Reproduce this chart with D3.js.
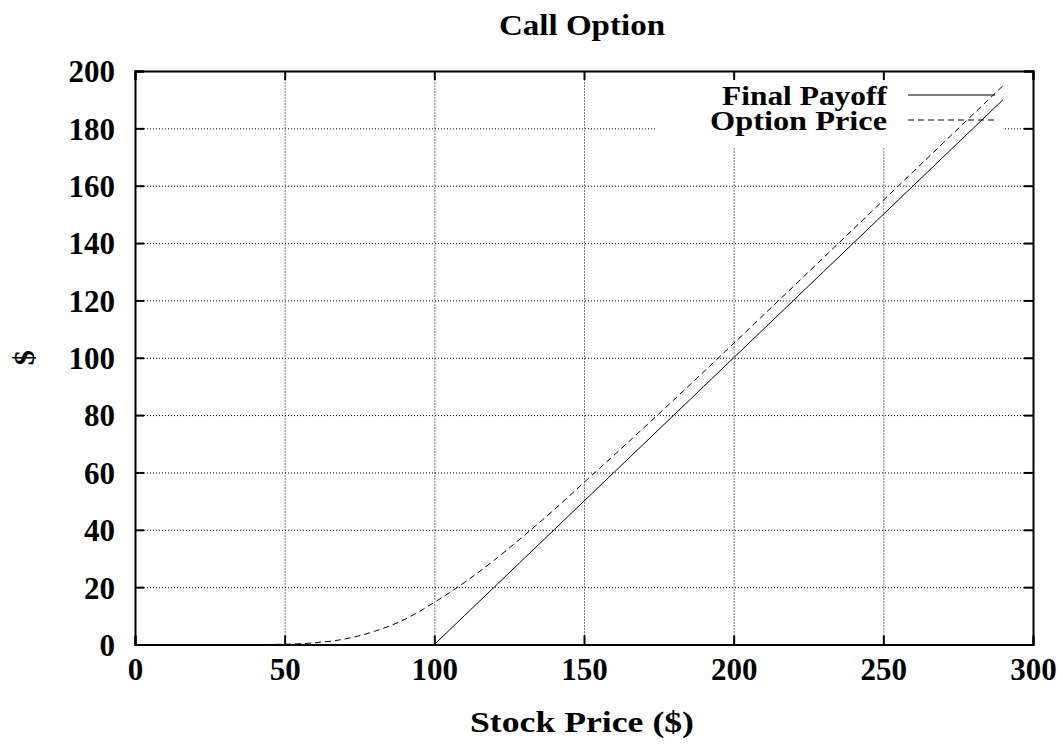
<!DOCTYPE html>
<html>
<head>
<meta charset="utf-8">
<script src="https://cdn.jsdelivr.net/npm/d3@7"></script>
<style>
  body { margin: 0; background: #fff; }
  text { font-family: "Liberation Serif", "Times New Roman", serif; font-weight: bold; fill: #000; }
</style>
</head>
<body>
<script>
// data
var stockPrice = [0, 10, 20, 30, 40, 50, 60, 70, 80, 90, 100, 110, 120, 130, 140,
                  150, 160, 170, 180, 190, 200, 210, 220, 230, 240, 250, 260, 270, 280, 290];
var finalPayoff = [0, 0, 0, 0, 0, 0, 0, 0, 0, 0, 0, 10, 20, 30, 40,
                   50, 60, 70, 80, 90, 100, 110, 120, 130, 140, 150, 160, 170, 180, 190];
var optionPrice = [0, 0, 0, 0, 0, 0.1, 0.6, 1.9, 4.6, 8.7, 14.7, 21.6, 29.4, 38.0, 47.0,
                   56.5, 66.0, 75.6, 85.3, 95.1, 105.0, 114.95, 124.9, 134.9, 144.9, 154.9, 164.9, 174.9, 184.9, 194.9];
var xTicks = [0, 50, 100, 150, 200, 250, 300];
var yTicks = [0, 20, 40, 60, 80, 100, 120, 140, 160, 180, 200];
var seriesNames = ["Final Payoff", "Option Price"];

// set the dimensions and margins of the graph
var margin = { top: 71, right: 30, bottom: 102.5, left: 135 },
    width = 1063 - margin.left - margin.right,
    height = 747 - margin.top - margin.bottom;

var x = d3.scaleLinear().domain([0, 300]).range([0, width]);
var y = d3.scaleLinear().domain([0, 200]).range([height, 0]);

var svg = d3.select("body").append("svg")
    .attr("width", 1063)
    .attr("height", 747)
    .append("g")
    .attr("transform", "translate(" + margin.left + "," + margin.top + ")");

// grid
svg.append("g")
    .attr("class", "grid")
    .attr("transform", "translate(0," + height + ")")
    .call(d3.axisBottom(x).tickValues(xTicks).tickSize(-height).tickFormat(""))
    .call(g => g.select(".domain").remove());
svg.append("g")
    .attr("class", "grid")
    .call(d3.axisLeft(y).tickValues(yTicks).tickSize(-width).tickFormat(""))
    .call(g => g.select(".domain").remove());
svg.selectAll(".grid line")
    .attr("stroke", "#000")
    .attr("stroke-width", 1)
    .attr("stroke-dasharray", "1,2");

// the key covers the grid behind it
svg.append("rect")
    .attr("x", 522)
    .attr("y", 9)
    .attr("width", 348)
    .attr("height", 68)
    .attr("fill", "#fff");

// lines
var line = d3.line()
    .x((d, i) => x(stockPrice[i]))
    .y(d => y(d));

svg.append("path")
    .datum(finalPayoff)
    .attr("fill", "none")
    .attr("stroke", "#000")
    .attr("stroke-width", 1)
    .attr("d", line);

svg.append("path")
    .datum(optionPrice)
    .attr("fill", "none")
    .attr("stroke", "#000")
    .attr("stroke-width", 1)
    .attr("stroke-dasharray", "6,4")
    .attr("d", line.curve(d3.curveMonotoneX));

// key
var key = svg.append("g").selectAll("g")
    .data(seriesNames)
    .enter().append("g")
    .attr("transform", (d, i) => "translate(0," + (24 + i * 25) + ")");
key.append("text")
    .attr("x", 752)
    .attr("dy", "0.35em")
    .attr("text-anchor", "end")
    .attr("textLength", (d, i) => i ? 177 : 165)
    .attr("lengthAdjust", "spacingAndGlyphs")
    .style("font-size", "28px")
    .text(d => d);
key.append("line")
    .attr("x1", 773)
    .attr("x2", 860)
    .attr("stroke", "#000")
    .attr("stroke-width", 1)
    .attr("stroke-dasharray", (d, i) => i ? "6,4" : null);

// axes with ticks inside, mirrored on top and right
var bottomAxis = svg.append("g")
    .attr("transform", "translate(0," + height + ")")
    .call(d3.axisBottom(x).tickValues(xTicks).tickSize(-9).tickPadding(13));
var leftAxis = svg.append("g")
    .call(d3.axisLeft(y).tickValues(yTicks).tickSize(-9).tickPadding(20));
svg.append("g")
    .call(d3.axisTop(x).tickValues(xTicks).tickSize(-9).tickFormat(""));
svg.append("g")
    .attr("transform", "translate(" + width + ",0)")
    .call(d3.axisRight(y).tickValues(yTicks).tickSize(-9).tickFormat(""));

svg.selectAll(".domain").attr("stroke", "#000").attr("stroke-width", 2);
svg.selectAll(".tick line").filter(function () { return !this.parentNode.parentNode.classList.contains("grid"); })
    .attr("stroke", "#000").attr("stroke-width", 2);
bottomAxis.selectAll("text").style("font-size", "31px").attr("dy", "0.71em");
leftAxis.selectAll("text").style("font-size", "31px").attr("dy", "0.35em");
svg.selectAll(".tick text").style("font-family", "'Liberation Serif', serif").style("font-weight", "bold").attr("fill", "#000");

// title and axis labels
svg.append("text")
    .attr("x", width / 2 - 2)
    .attr("y", -36)
    .attr("text-anchor", "middle")
    .attr("textLength", 166)
    .attr("lengthAdjust", "spacingAndGlyphs")
    .style("font-size", "30px")
    .text("Call Option");

svg.append("text")
    .attr("x", width / 2 - 2)
    .attr("y", height + 87)
    .attr("text-anchor", "middle")
    .attr("textLength", 224)
    .attr("lengthAdjust", "spacingAndGlyphs")
    .style("font-size", "30px")
    .text("Stock Price ($)");

svg.append("text")
    .attr("transform", "translate(" + (-112) + "," + (height / 2) + ") rotate(-90)")
    .attr("dy", "0.35em")
    .attr("text-anchor", "middle")
    .style("font-size", "30px")
    .text("$");
</script>
</body>
</html>
